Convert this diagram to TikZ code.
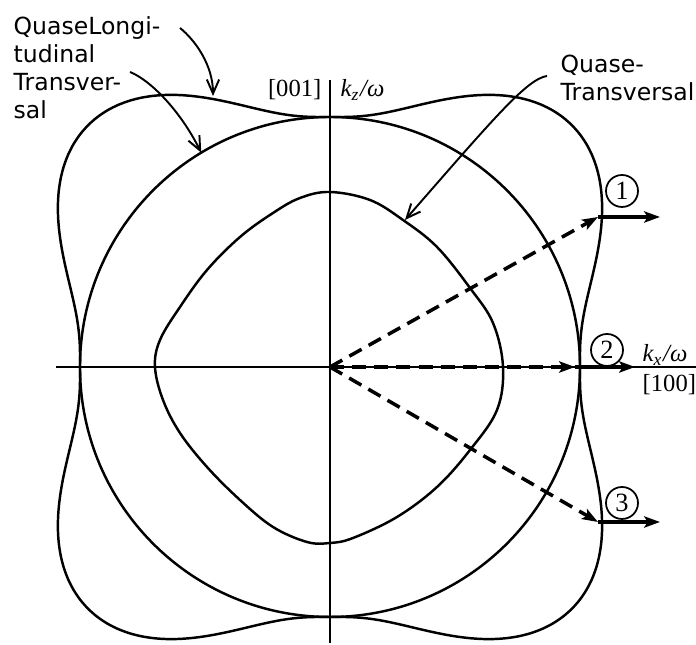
\documentclass[tikz,border=0pt]{standalone}
\usepackage{fontspec}
\setmainfont{DejaVu Sans}
\newfontfamily\serifnum{Liberation Serif}
\usetikzlibrary{arrows.meta}

\begin{document}
\begin{tikzpicture}[every node/.style={font=\fontsize{6.7}{8}\selectfont},
		curve/.style={line width=0.7pt},
		axis/.style={line width=0.45pt},
		ray/.style={line width=0.9pt, -{Stealth[length=4.5pt,width=3.2pt,inset=1pt]}},
		dray/.style={ray, line width=1pt, dash pattern=on 4pt off 2.3pt},
		note/.style={line width=0.55pt, -{Straight Barb[length=4pt,width=3.5pt]}},
		num/.style={draw, circle, line width=0.5pt, inner sep=0pt, minimum size=0.32cm,
			font=\serifnum\fontsize{7.5}{8}\selectfont},
		axlbl/.style={inner sep=0pt, font=\serifnum\fontsize{7}{8}\selectfont}]
	\useasboundingbox (-3.30,-2.78) rectangle (3.66,3.67);

	% axes
	\coordinate (O) at (0,0);
	\draw[axis] (-2.74,0) -- (3.66,0);
	\draw[axis] (0,-2.76) -- (0,2.87);
	\node[axlbl, anchor=base east] (dir001) at (-0.08,2.70) {[001]};
	\node[axlbl, anchor=base west] (kz) at (0.10,2.70) {\itshape k\textsubscript{z}/ω};
	\node[axlbl, anchor=base west] (kx) at (3.12,0.05) {\itshape k\textsubscript{x}/ω};
	\node[axlbl, anchor=base west] (dir100) at (3.12,-0.25) {[100]};

	% the three curves
	\draw[curve] (O) circle (2.50);
	\draw[curve] plot[domain=1:359, samples=180, smooth cycle]
		(\x:{2.50+0.92*sin(2*\x)^2*sqrt(abs(sin(2*\x)))});
	\draw[curve] plot[smooth cycle, tension=0.6] coordinates {
		(0,1.75) (0.40,1.67) (0.73,1.47) (1.07,1.20) (1.40,0.79) (1.63,0.44) (1.73,0)
		(1.67,-0.43) (1.40,-0.83) (1.07,-1.20) (0.67,-1.50) (0.23,-1.71) (0,-1.76)
		(-0.23,-1.75) (-0.57,-1.60) (-0.90,-1.33) (-1.23,-1.00) (-1.50,-0.66) (-1.67,-0.33) (-1.75,0)
		(-1.70,0.27) (-1.50,0.60) (-1.23,0.97) (-0.90,1.30) (-0.57,1.54) (-0.30,1.69)};

	% labels and pointers
	\node[anchor=north west, align=left, inner sep=0pt] (qlong) at (-3.17,3.51) {QuaseLongi-\\tudinal\\Transver-\\sal};
	\node[anchor=north west, align=left, inner sep=0pt] (qtrans) at (2.30,3.13) {Quase-\\Transversal};
	\coordinate (qlongA) at (-1.50,3.39);
	\coordinate (qlongB) at (-1.17,2.71);
	\coordinate (transA) at (-2.00,2.95);
	\coordinate (transB) at (121:2.50);
	\coordinate (qtransA) at (2.17,2.91);
	\coordinate (qtransB) at (0.75,1.47);
	\draw[note] (qlongA) .. controls (-1.35,3.27) and (-1.17,3.02) .. (qlongB);
	\draw[note] (transA) .. controls (-1.80,2.87) and (-1.50,2.57) .. (transB);
	\draw[note] (qtransA) .. controls (1.97,2.88) and (1.64,2.49) .. (qtransB);

	% rays
	\coordinate (p1) at (2.68,1.50);
	\coordinate (p1e) at (3.30,1.50);
	\coordinate (p2) at (2.45,0);
	\coordinate (p2e) at (3.05,0);
	\coordinate (p3) at (2.68,-1.55);
	\coordinate (p3e) at (3.30,-1.55);
	\draw[dray] (O) -- (p1);
	\draw[ray] (p1) -- (p1e);
	\draw[dray] (O) -- (p2);
	\draw[ray] (p2) -- (p2e);
	\draw[dray] (O) -- (p3);
	\draw[ray] (p3) -- (p3e);
	\node[num] (n1) at (2.92,1.76) {1};
	\node[num] (n2) at (2.77,0.17) {2};
	\node[num] (n3) at (2.92,-1.36) {3};
\end{tikzpicture}
\end{document}
